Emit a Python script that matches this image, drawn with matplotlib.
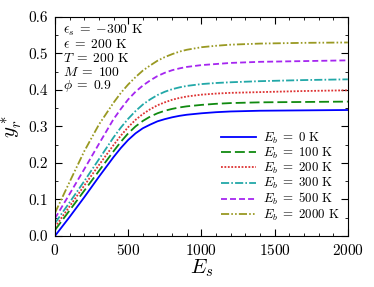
import numpy as np
import matplotlib
matplotlib.use("Agg")
import matplotlib.pyplot as plt
from matplotlib.ticker import MultipleLocator, FormatStrFormatter

plt.rcParams["font.family"] = "serif"
plt.rcParams["font.serif"] = ["cmr10"]
plt.rcParams["mathtext.fontset"] = "cm"
plt.rcParams["axes.formatter.use_mathtext"] = True

# values
E_s = [0, 100, 200, 300, 400, 450, 500, 550, 600, 650, 700, 750, 800, 850, 900,
       1000, 1100, 1200, 1400, 1700, 2000]
y_0 = [0.000, 0.052, 0.106, 0.162, 0.216, 0.241, 0.263, 0.281, 0.295, 0.305, 0.314,
       0.320, 0.325, 0.329, 0.332, 0.336, 0.339, 0.341, 0.343, 0.344, 0.345]
y_100 = [0.016, 0.070, 0.124, 0.178, 0.232, 0.258, 0.281, 0.300, 0.315, 0.327, 0.336,
         0.343, 0.348, 0.352, 0.355, 0.359, 0.362, 0.364, 0.366, 0.367, 0.368]
y_200 = [0.024, 0.081, 0.138, 0.194, 0.249, 0.275, 0.298, 0.318, 0.334, 0.347, 0.358,
         0.366, 0.373, 0.378, 0.382, 0.387, 0.390, 0.392, 0.394, 0.397, 0.399]
y_300 = [0.035, 0.092, 0.150, 0.210, 0.270, 0.297, 0.321, 0.342, 0.360, 0.374, 0.386,
         0.395, 0.402, 0.407, 0.411, 0.416, 0.419, 0.421, 0.424, 0.427, 0.429]
y_500 = [0.048, 0.115, 0.183, 0.252, 0.320, 0.348, 0.374, 0.395, 0.412, 0.426, 0.438,
         0.447, 0.454, 0.459, 0.463, 0.468, 0.471, 0.474, 0.477, 0.479, 0.481]
y_2000 = [0.063, 0.148, 0.232, 0.305, 0.365, 0.392, 0.415, 0.435, 0.453, 0.467, 0.480,
          0.490, 0.498, 0.505, 0.510, 0.517, 0.521, 0.524, 0.527, 0.529, 0.530]

E_b = [0, 100, 200, 300, 500, 2000]
curves = [y_0, y_100, y_200, y_300, y_500, y_2000]
colors = ["#0000ff", "#108a10", "#dd3333", "#22a8a8", "#a526f0", "#999922"]
styles = ["-", (0, (5.5, 2.2)), (0, (1, 0.9)), (0, (4.5, 1.2, 0.9, 1.2)),
          (0, (3.3, 1.7)), (0, (4.5, 1.2, 0.9, 1.2, 0.9, 1.2))]

params = [r"$\epsilon_s\;=\;{-}300$ K", r"$\epsilon\;=\;200$ K",
          r"$T\;=\;200$ K", r"$M\;=\;100$", r"$\phi\;=\;0.9$"]

fig = plt.figure(figsize=(3.74, 2.87), dpi=100)
ax = fig.add_axes([0.147, 0.178, 0.783, 0.763])

for eb, yv, c, ls in zip(E_b, curves, colors, styles):
    ax.plot(E_s, yv, color=c, linestyle=ls, lw=1.3,
            label=r"$E_b\;=\;%d$ K" % eb)

ax.set_xlim(0, 2000)
ax.set_ylim(0, 0.6)
ax.xaxis.set_major_locator(MultipleLocator(500))
ax.xaxis.set_minor_locator(MultipleLocator(100))
ax.yaxis.set_major_locator(MultipleLocator(0.1))
ax.yaxis.set_minor_locator(MultipleLocator(0.05))
ax.yaxis.set_major_formatter(FormatStrFormatter("%.1f"))
ax.tick_params(which="both", direction="in", top=True, right=True, labelsize=11)
ax.tick_params(which="major", length=5, pad=5)
ax.tick_params(which="minor", length=2.5)

ax.set_xlabel(r"$E_s$", fontsize=15, labelpad=0)
ax.set_ylabel(r"$y_r^*$", fontsize=15, labelpad=3)

# parameter block, one line each
for i, t in enumerate(params):
    ax.text(0.027, 0.937 - i * 0.0635, t, transform=ax.transAxes,
            va="center", ha="left", fontsize=9.8)

ax.legend(loc="lower right", frameon=False, fontsize=9.3, handlelength=2.7,
          labelspacing=0.0, borderaxespad=0.2, handletextpad=0.6,
          bbox_to_anchor=(1.0, 0.025))

fig.savefig("out.png", dpi=100)
